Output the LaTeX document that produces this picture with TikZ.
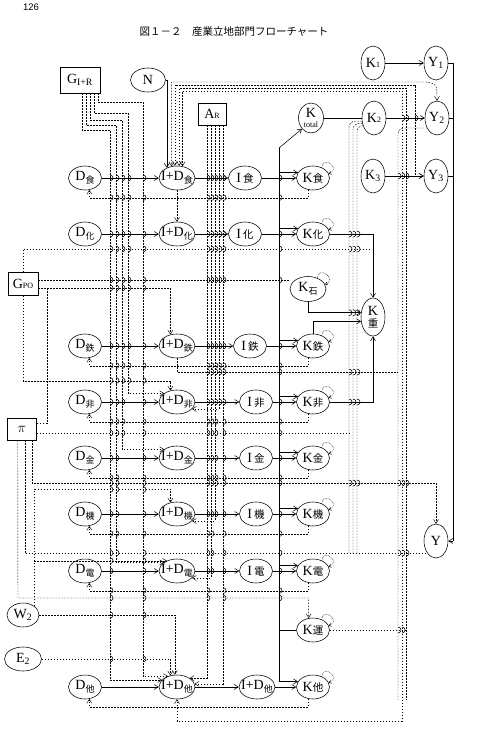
\documentclass[tikz,border=0pt]{standalone}
\usepackage{fontspec}
\setmainfont{Liberation Serif}
\setsansfont{Liberation Sans}
\newfontfamily\jp{Noto Sans CJK JP}
\usetikzlibrary{shapes.geometric,arrows.meta}

\newcommand\jsub[1]{\raisebox{-0.45ex}{\fontsize{9}{9}\selectfont\jp #1}}
\newcommand\jk[1]{{\fontsize{10.5}{11}\selectfont\jp #1}}
\newcommand\hop[2]{\draw (#1,#2-3) arc[start angle=-90, end angle=90, radius=3];}

\tikzset{
  sect/.style={ellipse, draw, fill=white, minimum width=33pt, minimum height=24pt, inner xsep=-5pt, inner ysep=-1pt},
  idn/.style={sect, minimum width=36pt},
  kv/.style={sect, minimum width=24pt, minimum height=34pt},
  exo/.style={rectangle, draw, fill=white, inner sep=1pt, minimum height=22pt},
  flow/.style={-{Straight Barb[length=4pt,width=5pt]}},
  bus/.style={line width=0.45pt, dash pattern=on 1.6pt off 1.4pt},
  fb/.style={bus, -{Straight Barb[length=4pt,width=5pt]}},
  fbb/.style={bus, {Straight Barb[length=4pt,width=5pt]}-{Straight Barb[length=4pt,width=5pt]}},
  fbs/.style={bus, {Straight Barb[length=4pt,width=5pt]}-},
  selfk/.style={densely dotted, -{Straight Barb[length=2pt,width=3pt]}},
}

\begin{document}
\begin{tikzpicture}[x=1pt, y=-1pt, line width=0.55pt, font=\fontsize{14}{15}\selectfont]
  \fill[white] (0,0) rectangle (485,745);
  \useasboundingbox (0,0) rectangle (485,745);

  % heading
  \node[font=\sffamily\fontsize{9.5}{10}\selectfont] (pgno) at (31,7) {126};
  \node[font=\jp\fontsize{10.5}{11}\selectfont] (title) at (234,32) {図１－２　産業立地部門フローチャート};

  % exogenous inputs
  \node[exo, minimum width=40pt, minimum height=26pt] (GIR) at (80,80) {G\textsubscript{I+R}};
  \node[sect, minimum width=35pt] (N) at (148,80) {N};
  \node[exo, minimum width=28pt] (AR) at (212,114) {A{\footnotesize R}};
  \node[exo, minimum width=30pt, minimum height=23pt] (GPO) at (23,284) {G{\footnotesize PO}};
  \node[exo, minimum width=29pt] (pi) at (22,429) {$\pi$};
  \node[sect, minimum width=32pt] (W2) at (23,615) {W\textsubscript{2}};
  \node[sect, minimum width=37pt] (E2) at (23,659) {E\textsubscript{2}};

  % capital and output column
  \node[kv, minimum width=25pt, minimum height=30pt, align=center] (Ktot) at (311,118) {K\\[-5pt]{\fontsize{8}{8}\selectfont total}};
  \node[kv] (K1) at (373,63) {K{\footnotesize 1}};
  \node[kv] (Y1) at (436,63) {Y\textsubscript{1}};
  \node[kv] (K2) at (374,118) {K{\footnotesize 2}};
  \node[kv] (Y2) at (437,118) {Y\textsubscript{2}};
  \node[kv] (K3) at (373,176) {K\textsubscript{3}};
  \node[kv] (Y3) at (436,176) {Y\textsubscript{3}};
  \node[sect, minimum width=36pt, minimum height=25pt] (Kst) at (308,289) {K\jsub{石}};
  \node[kv, minimum height=38pt, align=center] (Kjuu) at (373,317) {K\\[-3pt]\jk{重}};
  \node[kv] (Y) at (436,541) {Y};
  \node[sect] (Kun) at (313,630) {K\jk{運}};
  \coordinate (kb) at (279,148);
  \coordinate (yr) at (453,541);

  % sector rows
  \foreach \r/\y/\s/\ix in {food/178/食/245, chem/234/化/245, iron/346/鉄/250,
      nonf/402/非/256, metal/458/金/256, mach/514/機/256, elec/571/電/256}{
    \node[sect] (D\r) at (85,\y) {D\jsub{\s}};
    \node[idn] (ID\r) at (177,\y) {I+D\jsub{\s}};
    \node[sect] (I\r) at (\ix,\y) {I\,\jk{\s}};
    \node[sect] (K\r) at (313,\y) {K\jk{\s}};
    \draw[flow] (D\r) -- (ID\r);
    \draw[flow] (ID\r) -- (I\r);
    \draw[flow] (I\r) -- (K\r);
    \draw[flow] (K\r.160 -| kb) -- (K\r.160);
    \draw[selfk] (K\r.50) .. controls +(1,-13) and +(13,-5) .. (K\r.15);
  }
  \node[sect] (Doth) at (85,687) {D\jsub{他}};
  \node[idn] (IDoth) at (177,687) {I+D\jsub{他}};
  \node[idn] (IDoth2) at (257,687) {I+D\jsub{他}};
  \node[sect] (Koth) at (313,687) {K\jk{他}};
  \draw[flow] (Doth) -- (IDoth);
  \draw[flow] (IDoth) -- (IDoth2);
  \draw[flow] (IDoth2) -- (Koth);
  \foreach \k in {Koth, Kst, Kun}{
    \draw[selfk] (\k.50) .. controls +(1,-13) and +(13,-5) .. (\k.15);
  }

  % feedback K -> D
  \foreach \r in {food, iron, nonf, metal, mach, elec, oth}{
    \draw[fb] (K\r.250) -- ++(0,8) -| (D\r.290);
  }
  \draw[fb] (IDfood.south) -- (IDchem.north);

  % buses from G_{I+R}, N and A_R
  \foreach \dx/\gy/\bx/\tg in {22/130/110/IDoth.155, 26/125/116/IDelec.north west,
      30/120/122/IDmetal.north west, 34/113/128/IDnonf.north west}{
    \draw[fb] ([xshift=\dx pt]GIR.south west) |- (\bx,\gy) |- (\tg);
  }
  \draw[fb] ([xshift=38pt]GIR.south west) |- (143,102) |- (IDoth.130);
  \draw[flow] (N.east) -| (IDfood.135);
  \foreach \dx/\tg in {9/IDoth.35, 13/IDelec.-25, 17/IDmach.-25, 21/IDnonf.-25, 25/IDoth.10}{
    \draw[fb] ([xshift=\dx pt]AR.south west) |- (\tg);
  }

  % G_PO, pi, W2, E2
  \draw[bus] (GPO.north) |- (370,249);
  \draw[bus] (GPO.15) -- (GPO.15 -| Kst.west);
  \draw[fb] (GPO.-15) -| (IDiron.120);
  \draw[fb] (GPO.south) -- ++(0,85) -| (IDnonf.120);
  \draw[bus] (pi.20) -| (47,288);
  \draw[bus] (pi.-15) -- ++(313,0);
  \draw[fb] ([xshift=10.5pt]pi.south west) -- (18,598) -| (Kun.110);
  \draw[bus] ([xshift=17.5pt]pi.south west) |- (Y.235);
  \draw[fb] ([xshift=24.5pt]pi.south west) |- (436,483) -- (Y.north);
  \draw[fb] (W2.north east) -- ++(0,-117) -| (IDmach.120);
  \draw[fb] (W2.north east) |- (IDelec.135);
  \draw[fb] (W2.east) -| (IDoth.100);
  \draw[fb] (E2.east) -| (IDoth.120);
  \draw[bus] (IDiron.south) |- (398,372);

  % capital links
  \draw[flow] (kb) -- (Ktot.south west);
  \draw[flow] (kb) |- (Koth.160);
  \draw (Kun.west -| kb) -- (Kun.west);
  \draw[bus] (Kun.east) -- ++(76,0);
  \draw (Ktot) -- (K2);
  \draw[flow] (K1) -- (Y1);
  \draw[flow] (K2) -- (Y2);
  \draw[flow] (K3) -- (Y3);
  \draw[flow] (Kchem.east) -| (Kjuu.north);
  \draw[flow] (Kst.south) |- (Kjuu.160);
  \draw[flow] (Kiron.north) |- (Kjuu.200);
  \draw[flow] (Knonf.east) -| (Kjuu.south);
  \foreach \kx/\a in {349/195, 353/205, 357/215}{
    \draw[bus, rounded corners=6pt] (K2.\a) -| (\kx,553);
  }

  % output column and returns to I+D
  \draw[bus, rounded corners=6pt] (Y2.225) -| (398,700);
  \draw[fbb] (Y2.north) .. controls (437,84) .. (426,82) -| (IDfood.115);
  \draw[fbb] (Y3.west) -| (415,85) -| (IDfood.100);
  \draw[fbs] (IDfood.80) |- (406,88) -- (406,700);
  \draw[fbb] (IDfood.65) |- (402,91) -- (402,721) -| (IDoth.south);
  \draw (Y1.east) -| (yr);
  \draw (Y2.east) -- (Y2.east -| yr);
  \draw (Y3.east) -- (Y3.east -| yr);
  \draw[flow] (yr) -- (Y.east);

  % line hops
  \foreach \y in {178,234,346,197.6,365.6,280}
    {\foreach \x in {110,116,122,128,143,207,211,215,219,223,279} {\hop{\x}{\y}}}
  \foreach \x in {110,116,122,128,143,207,211,215,219,223,279,349,353,357} {\hop{\x}{249}}
  \foreach \x in {110,116,122,143,207,211,215,219,223,279} {\hop{\x}{402}}
  \foreach \y in {421.6,433}
    {\foreach \x in {110,116,122,143,207,211,215,223,279} {\hop{\x}{\y}}}
  \foreach \y in {458,514,477.6}
    {\foreach \x in {110,116,143,207,211,215,223,279} {\hop{\x}{\y}}}
  \foreach \x in {110,116,143,207,211,223,279} {\hop{\x}{533.6}}
  \foreach \x in {110,116,143,207,211,223,279,398,402,406} {\hop{\x}{553}}
  \foreach \x in {110,143,207,211,223,279} {\hop{\x}{571}}
  \foreach \y in {590.6,598}
    {\foreach \x in {110,143,207,223,279} {\hop{\x}{\y}}}
  \foreach \y in {288,380.5}
    {\foreach \x in {110,116,122,128,143} {\hop{\x}{\y}}}
  \foreach \x in {207,211,215,219,223,279,349,353,357} {\hop{\x}{372}}
  \foreach \x in {110,116,143,207,211,215,223,279,349,353,357,398,402,406} {\hop{\x}{483}}
  \foreach \x in {110,116,143} {\hop{\x}{489.5}}
  \foreach \y in {560.7,615,659}
    {\foreach \x in {110,143} {\hop{\x}{\y}}}
  \foreach \y in {234,312.7,402}
    {\foreach \x in {349,353,357} {\hop{\x}{\y}}}
  \foreach \x in {402,406,415} {\hop{\x}{118}}
  \foreach \x in {398,402,406} {\hop{\x}{176}}
  \foreach \x in {398,402} {\hop{\x}{630}}
\end{tikzpicture}
\end{document}
